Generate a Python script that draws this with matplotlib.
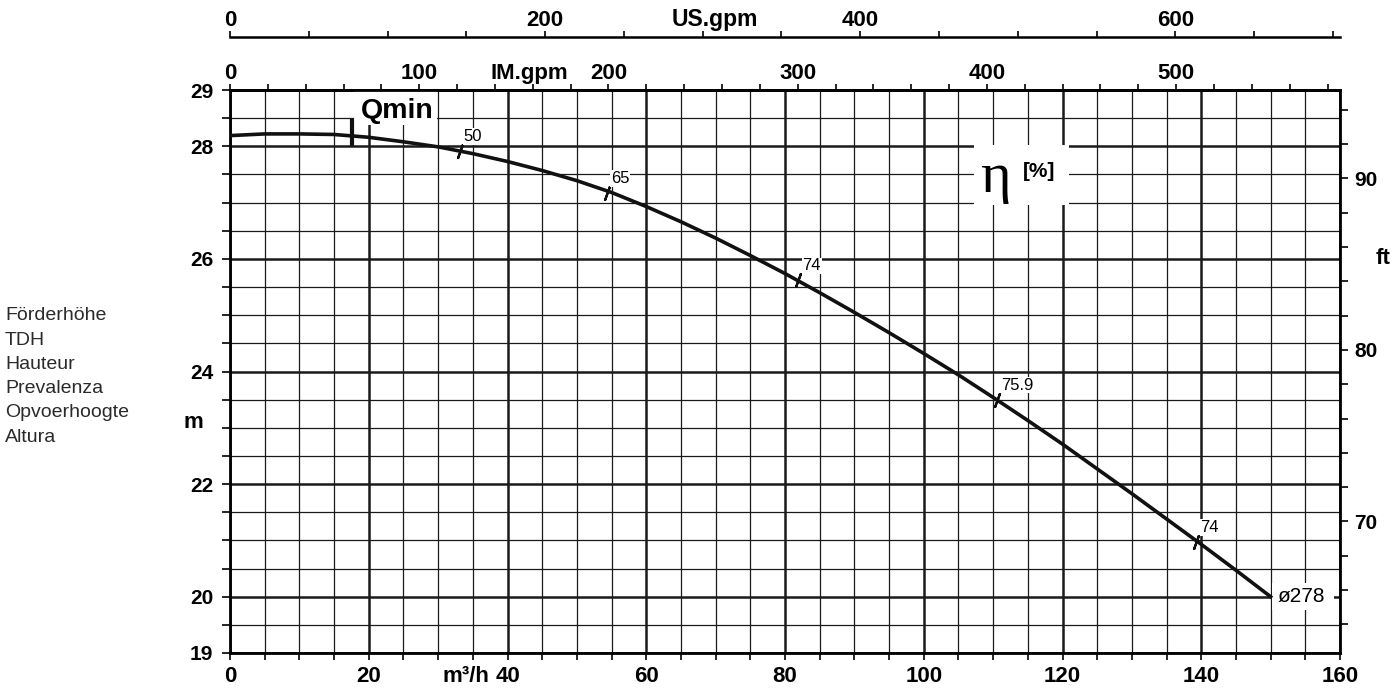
import matplotlib
matplotlib.use("Agg")
import matplotlib.pyplot as plt
from matplotlib.ticker import MultipleLocator
from matplotlib.patches import Rectangle

plt.rcParams['font.family'] = ['Liberation Sans', 'DejaVu Sans']

# === datos (caudal m3/h, altura m) ===
caudal = [0, 5, 10, 15, 20, 25, 30, 35, 40, 45, 50, 55, 60, 65, 70, 75, 80, 85, 90, 95,
          100, 105, 110, 115, 120, 125, 130, 135, 140, 145, 150]
altura = [28.19, 28.22, 28.22, 28.21, 28.16, 28.08, 27.99, 27.87, 27.73, 27.57, 27.39, 27.18,
          26.93, 26.66, 26.37, 26.06, 25.74, 25.40, 25.05, 24.69, 24.32, 23.94, 23.54, 23.13,
          22.71, 22.27, 21.83, 21.38, 20.93, 20.47, 20.00]

# puntos de rendimiento sobre la curva
eta_q = [33.1, 54.3, 81.9, 110.5, 139.3]
eta_h = [27.92, 27.17, 25.62, 23.50, 20.97]
eta_txt = ["50", "65", "74", "75.9", "74"]

q_min = 17.6
q_min_h = [28.0, 28.48]
diametro = "ø278"

h_ticks = [19, 20, 22, 24, 26, 28, 29]
q_ticks = [0, 20, 40, 60, 80, 100, 120, 140, 160]
im_ticks = [0, 100, 200, 300, 400, 500]
us_ticks = [0, 200, 400, 600]
ft_ticks = [70, 80, 90]

etiquetas_izq = ["Förderhöhe", "TDH", "Hauteur", "Prevalenza", "Opvoerhoogte", "Altura"]

IM = 3.6662   # IM.gpm por m3/h
US = 4.4029   # US.gpm por m3/h
FT = 3.28084  # ft por m

# === figura ===
fig = plt.figure(figsize=(14, 6.95), dpi=100)
ax = fig.add_axes([230 / 1400, 1 - 653 / 695, 1110 / 1400, 563 / 695])
ax.set_xlim(0, 160)
ax.set_ylim(19, 29)

negro = '#1a1a1a'
ax.set_xticks(q_ticks, labels=[str(v) for v in q_ticks], fontweight='bold', fontsize=16)
ax.set_yticks(h_ticks, labels=[str(v) for v in h_ticks], fontweight='bold', fontsize=15)
ax.xaxis.set_minor_locator(MultipleLocator(5))
ax.yaxis.set_minor_locator(MultipleLocator(0.5))
ax.set_axisbelow(True)
ax.grid(which='major', color=negro, lw=1.8)
ax.grid(which='minor', color=negro, lw=0.9)
ax.tick_params(axis='x', which='both', direction='out', length=5, width=1.2, pad=4)
ax.tick_params(axis='y', which='both', direction='out', length=6, width=1.2, pad=6)
for s in ax.spines.values():
    s.set_linewidth(2)

# huecos blancos detras de los textos
ax.add_patch(Rectangle((17.9, 28.38), 11.9, 0.7, facecolor='white', edgecolor='none', zorder=1))
ax.add_patch(Rectangle((107.2, 26.95), 13.8, 1.08, facecolor='white', edgecolor='none', zorder=1))
ax.add_patch(Rectangle((150.2, 19.76), 9.0, 0.48, facecolor='white', edgecolor='none', zorder=1))

# curva
ax.plot(caudal, altura, color='#111111', lw=2.6, solid_joinstyle='round', zorder=3)
ax.plot(eta_q, eta_h, ls='none', marker=(2, 2, -20), ms=11, mew=1.6, color='#111111', zorder=4)
for q, h, t in zip(eta_q, eta_h, eta_txt):
    ax.annotate(t, (q, h), xytext=(3, 5), textcoords='offset points', fontsize=12,
                ha='left', va='bottom', zorder=4,
                bbox=dict(facecolor='white', edgecolor='none', pad=0.5))

ax.vlines(q_min, q_min_h[0], q_min_h[1], color='#111111', lw=3, zorder=4)
ax.text(18.9, 28.5, "Qmin", fontsize=20.5, fontweight='bold', ha='left', va='baseline', zorder=4)

ax.text(108.1, 27.44, "η", fontsize=42, family='Liberation Serif', ha='left', va='center', zorder=4)
ax.text(114.3, 27.56, "[%]", fontsize=15, fontweight='bold', ha='left', va='center', zorder=4)
ax.text(151, 20.0, diametro, fontsize=15, ha='left', va='center', zorder=4)

# eje superior IM.gpm
sec_im = ax.secondary_xaxis('top', functions=(lambda q: q * IM, lambda g: g / IM))
sec_im.set_xticks(im_ticks, labels=[str(v) for v in im_ticks], fontweight='bold', fontsize=16)
sec_im.xaxis.set_minor_locator(MultipleLocator(20))
sec_im.tick_params(which='both', direction='out', length=4.5, width=1.2, pad=-0.5)
sec_im.spines['top'].set_linewidth(2)
ax.annotate("IM.gpm", (158 / IM, 1), xycoords=('data', 'axes fraction'), xytext=(0, 4),
            textcoords='offset points', ha='center', va='bottom', fontsize=16, fontweight='bold')

# eje superior US.gpm
loc_us = 1 + 52.5 / 563
sec_us = ax.secondary_xaxis(loc_us, functions=(lambda q: q * US, lambda g: g / US))
sec_us.set_xticks(us_ticks, labels=[str(v) for v in us_ticks], fontweight='bold', fontsize=16)
sec_us.xaxis.set_minor_locator(MultipleLocator(50))
sec_us.tick_params(which='both', direction='out', length=4.5, width=1.2, pad=0)
sec_us.spines['top'].set_linewidth(1.8)
ax.annotate("US.gpm", (308 / US, loc_us), xycoords=('data', 'axes fraction'), xytext=(0, 4.5),
            textcoords='offset points', ha='center', va='bottom', fontsize=16.5, fontweight='bold')

# eje derecho ft
sec_ft = ax.secondary_yaxis('right', functions=(lambda h: h * FT, lambda f: f / FT))
sec_ft.set_yticks(ft_ticks, labels=[str(v) for v in ft_ticks], fontweight='bold', fontsize=15)
sec_ft.yaxis.set_minor_locator(MultipleLocator(2))
sec_ft.tick_params(which='both', direction='out', length=6, width=1.2, pad=4)
ax.text(1.0387, 26.0, "ft", transform=ax.get_yaxis_transform(), ha='center', va='center',
        fontsize=16, fontweight='bold')

# unidades
ax.annotate("m³/h", (34, 0), xycoords=('data', 'axes fraction'), xytext=(0, -9),
            textcoords='offset points', ha='center', va='top', fontsize=16, fontweight='bold')
ax.text(-0.033, 23.09, "m", transform=ax.get_yaxis_transform(), ha='center', va='center',
        fontsize=16, fontweight='bold')

for i, t in enumerate(etiquetas_izq):
    fig.text(5 / 1400, 1 - (316 + i * 24.2) / 695, t, fontsize=14, color='#2a2a2a',
             ha='left', va='center')

fig.savefig("out.png", dpi=100)
